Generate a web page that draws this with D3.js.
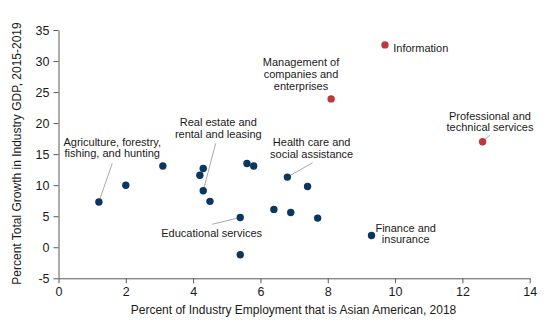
<!DOCTYPE html>
<html>
<head>
<meta charset="utf-8">
<script src="https://cdn.jsdelivr.net/npm/d3@7"></script>
<style>
  html, body { margin: 0; padding: 0; background: #fff; }
  svg { display: block; font-family: "Liberation Sans", Arial, sans-serif; }
</style>
</head>
<body>
<svg id="chart" width="560" height="323"></svg>
<script>
// ---- Data ----
const industries = [
  "Agriculture, forestry, fishing, and hunting",
  "Other A", "Other B", "Other C", "Other D",
  "Real estate and rental and leasing",
  "Other E", "Educational services", "Other F", "Other G", "Other H", "Other I",
  "Health care and social assistance",
  "Other J", "Other K", "Other L",
  "Finance and insurance",
  "Information",
  "Management of companies and enterprises",
  "Professional and technical services"
];
const asianShare = [1.2, 2.0, 3.1, 4.2, 4.3, 4.3, 4.5, 5.4, 5.4, 5.6, 5.8, 6.4, 6.8, 7.4, 6.9, 7.7, 9.3, 9.7, 8.1, 12.6];
const gdpGrowth  = [7.3, 10.0, 13.1, 11.6, 12.7, 9.1, 7.4, 4.8, -1.2, 13.5, 13.1, 6.1, 11.3, 9.8, 5.6, 4.7, 1.9, 32.6, 23.9, 17.0];
const highlighted = ["Information", "Management of companies and enterprises", "Professional and technical services"];
const xTicks = [0, 2, 4, 6, 8, 10, 12, 14];
const yTicks = [-5, 0, 5, 10, 15, 20, 25, 30, 35];
const xTitle = "Percent of Industry Employment that is Asian American, 2018";
const yTitle = "Percent Total Growth in Industry GDP, 2015-2019";

// Label layout (pixel offsets from the point)
const labelLayout = [
  { name: "Agriculture, forestry, fishing, and hunting", lines: ["Agriculture, forestry,", "fishing, and hunting"], dx: 13.4, dy: -60.2, gap: 11.8, anchor: "middle", leader: [13.4, -38.6] },
  { name: "Real estate and rental and leasing", lines: ["Real estate and", "rental and leasing"], dx: 15.1, dy: -69.1, gap: 12.3, anchor: "middle", leader: [12.5, -47.5] },
  { name: "Educational services", lines: ["Educational services"], dx: -28.6, dy: 15.8, gap: 12, anchor: "middle", leader: [-28, 6.8] },
  { name: "Management of companies and enterprises", lines: ["Management of", "companies and", "enterprises"], dx: -30.1, dy: -37.2, gap: 12.2, anchor: "middle", leader: null },
  { name: "Health care and social assistance", lines: ["Health care and", "social assistance"], dx: 24.3, dy: -35.4, gap: 12.4, anchor: "middle", leader: [25.3, -14.4] },
  { name: "Information", lines: ["Information"], dx: 8.3, dy: 3.4, gap: 12, anchor: "start", leader: null },
  { name: "Professional and technical services", lines: ["Professional and", "technical services"], dx: 7.4, dy: -26, gap: 11.8, anchor: "middle", leader: [7.4, -6.7] },
  { name: "Finance and insurance", lines: ["Finance and", "insurance"], dx: 34.2, dy: -7.8, gap: 11.8, anchor: "middle", leader: null }
];

// ---- Chart ----
const svg = d3.select("#chart");
const plotLeft = 58.5, plotRight = 529.7, plotTop = 30, plotBottom = 278.3;
const x = d3.scaleLinear().domain([0, 14]).range([plotLeft, plotRight]);
const y = d3.scaleLinear().domain([-5, 35]).range([plotBottom, plotTop]);

const axisColor = "#595959";
const textColor = "#1a1a1a";
const navy = "#0c3660";
const red = "#c0373a";

const data = industries.map((n, i) => ({ name: n, x: asianShare[i], y: gdpGrowth[i] }));
const fmt = v => String(v);

// Axes
const xAxis = svg.append("g").attr("transform", `translate(0,${plotBottom})`)
  .call(d3.axisBottom(x).tickValues(xTicks).tickSize(5).tickSizeOuter(0).tickFormat(fmt));
const yAxis = svg.append("g").attr("transform", `translate(${plotLeft},0)`)
  .call(d3.axisLeft(y).tickValues(yTicks).tickSize(5).tickSizeOuter(0).tickFormat(fmt));
[xAxis, yAxis].forEach(g => {
  g.select(".domain").attr("stroke", axisColor).attr("stroke-width", 1);
  g.selectAll(".tick line").attr("stroke", axisColor).attr("stroke-width", 1);
  g.selectAll(".tick text").attr("fill", textColor).style("font-size", "12.5px")
    .style("font-family", "Liberation Sans, Arial, sans-serif");
});
xAxis.selectAll(".tick text").attr("dy", "0.71em").attr("y", 9);
yAxis.selectAll(".tick text").attr("x", -9);

// Axis titles
svg.append("text").attr("x", 293.5).attr("y", 314)
  .attr("text-anchor", "middle").attr("fill", textColor).style("font-size", "12px")
  .text(xTitle);
svg.append("text").attr("transform", "translate(21,153.5) rotate(-90)")
  .attr("text-anchor", "middle").attr("fill", textColor).style("font-size", "12px")
  .text(yTitle);

// Leader lines
const byName = new Map(data.map(d => [d.name, d]));
const leaders = labelLayout.filter(l => l.leader);
svg.append("g").selectAll("line").data(leaders).join("line")
  .attr("x1", l => x(byName.get(l.name).x))
  .attr("y1", l => y(byName.get(l.name).y))
  .attr("x2", l => x(byName.get(l.name).x) + l.leader[0])
  .attr("y2", l => y(byName.get(l.name).y) + l.leader[1])
  .attr("stroke", "#aaaaaa").attr("stroke-width", 1);

// Points
svg.append("g").selectAll("circle").data(data).join("circle")
  .attr("cx", d => x(d.x)).attr("cy", d => y(d.y)).attr("r", 3.7)
  .attr("fill", d => highlighted.includes(d.name) ? red : navy);

// Labels
const lg = svg.append("g").style("font-size", "11px").attr("fill", textColor);
labelLayout.forEach(l => {
  const d = byName.get(l.name);
  const t = lg.append("text").attr("text-anchor", l.anchor);
  l.lines.forEach((line, i) => {
    t.append("tspan")
      .attr("x", x(d.x) + l.dx)
      .attr("y", y(d.y) + l.dy + i * l.gap)
      .attr("dy", "0.35em")
      .text(line);
  });
});
</script>
</body>
</html>
